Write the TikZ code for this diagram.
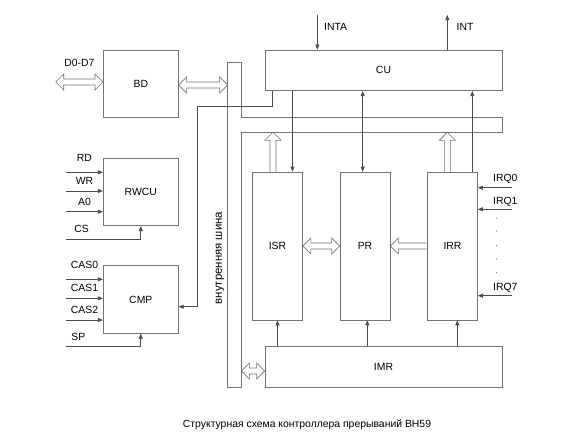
\documentclass[tikz,border=0pt]{standalone}
\usepackage{fontspec}
\setmainfont{Liberation Sans}
\usetikzlibrary{arrows.meta,positioning,calc}

% hollow block arrows: #1 = start, #2 = tip
\newcommand{\fatarrow}[2]{%
  \coordinate (fa-h) at ($(#2)!8pt!(#1)$);
  \draw[fatline] ($(#1)!3pt!90:(#2)$) -- ($(fa-h)!3pt!-90:(#1)$) -- ($(fa-h)!8pt!-90:(#1)$)
    -- (#2) -- ($(fa-h)!8pt!90:(#1)$) -- ($(fa-h)!3pt!90:(#1)$) -- ($(#1)!3pt!-90:(#2)$);
}
\newcommand{\fatboth}[2]{%
  \coordinate (fa-g) at ($(#1)!8pt!(#2)$);
  \coordinate (fa-h) at ($(#2)!8pt!(#1)$);
  \draw[fatline] (#1) -- ($(fa-g)!8pt!90:(#2)$) -- ($(fa-g)!3pt!90:(#2)$)
    -- ($(fa-h)!3pt!-90:(#1)$) -- ($(fa-h)!8pt!-90:(#1)$) -- (#2)
    -- ($(fa-h)!8pt!90:(#1)$) -- ($(fa-h)!3pt!90:(#1)$)
    -- ($(fa-g)!3pt!-90:(#2)$) -- ($(fa-g)!8pt!-90:(#2)$) -- cycle;
}

\begin{document}
\begin{tikzpicture}[
      x=1pt, y=-1pt,
      line width=0.7pt,
      every node/.style={font=\fontsize{10.4}{12}\selectfont},
      block/.style={draw=black!55, minimum width=75pt, minimum height=67.5pt, inner sep=0pt},
      reg/.style={draw=black!55, minimum width=50pt, minimum height=148pt, inner sep=0pt},
      wide/.style={draw=black!55, minimum width=237pt, minimum height=40.7pt, inner sep=0pt},
      sig/.style={inner sep=0pt},
      arr/.style={draw=black!70, -{Triangle[length=5pt, width=4pt]}},
      darr/.style={draw=black!70, {Triangle[length=5pt, width=4pt]}-{Triangle[length=5pt, width=4pt]}},
      fatline/.style={draw=black!55, line width=0.6pt, line join=miter},
    ]
    \useasboundingbox (0,0) rectangle (585,445);

    % left column
    \node[block] (bd) at (140.8,84) {BD};
    \node[block] (rwcu) at (140.8,192) {RWCU};
    \node[block] (cmp) at (140.8,299.5) {CMP};

    % internal bus
    \node[minimum width=13pt, minimum height=324pt, inner sep=0pt] (bus) at (234.5,225) {};
    \node[rotate=90, font=\fontsize{11.4}{13}\selectfont] (busname) at (220,258) {внутренняя шина};

    % right part
    \node[wide] (cu) at (383.5,70.3) {CU};
    \node[reg] (isr) at (277.5,246) {ISR};
    \node[reg] (pr) at (365,246) {PR};
    \node[reg] (irr) at (452.5,246) {IRR};
    \node[wide] (imr) at (383.5,367) {IMR};

    \coordinate (armtop) at (0,117.7);
    \coordinate (armbot) at (0,132.3);
    \draw[black!55] (bus.north west) -- (bus.north east) -- (bus.east |- armtop)
      -- (cu.east |- armtop) -- (cu.east |- armbot) -- (bus.east |- armbot)
      -- (bus.south east) -- (bus.south west) -- cycle;

    % data lines
    \coordinate (d0) at (55.7,82);
    \coordinate (d1) at (d0 -| bd.west);
    \fatboth{d0}{d1}
    \node[sig, above=15pt] (dlbl) at ($(d0)!0.5!(d1)$) {D0-D7};
    \coordinate (b0) at ([yshift=-1pt]bd.east);
    \coordinate (b1) at (b0 -| bus.west);
    \fatboth{b0}{b1}
    \coordinate (m0) at (bus.east |- 0,371);
    \coordinate (m1) at (imr.west |- 0,371);
    \fatboth{m0}{m1}
    \fatboth{isr.east}{pr.west}
    \fatarrow{irr.west}{pr.east}
    \coordinate (f1) at ([xshift=-4.5pt]isr.north);
    \coordinate (f2) at ([xshift=-5.2pt]irr.north);
    \coordinate (g1) at (f1 |- armbot);
    \coordinate (g2) at (f2 |- armbot);
    \fatarrow{f1}{g1}
    \fatarrow{f2}{g2}

    % control lines
    \coordinate (k1) at ([xshift=15pt]isr.north);
    \coordinate (k2) at ([xshift=-2.3pt]pr.north);
    \coordinate (k3) at ([xshift=19.8pt]irr.north);
    \draw[arr] (k1 |- cu.south) -- (k1);
    \draw[darr] (k2 |- cu.south) -- (k2);
    \draw[arr] (k3) -- (k3 |- cu.south);

    \coordinate (b2) at ([xshift=2.3pt]pr.south);
    \coordinate (b3) at ([xshift=4.8pt]irr.south);
    \draw[arr] (isr.south |- imr.north) -- (isr.south);
    \draw[arr] (b2 |- imr.north) -- (b2);
    \draw[arr] (b3 |- imr.north) -- (b3);

    \coordinate (inta) at (317.3,15);
    \coordinate (int) at (447.3,15);
    \draw[arr] (inta) -- (inta |- cu.north) node[sig, pos=0.35, right=6.5pt] {INTA};
    \draw[arr] (int |- cu.north) -- (int) node[sig, pos=0.66, right=9pt] {INT};

    \coordinate (t1) at ([xshift=7.7pt]cu.south west);
    \coordinate (t2) at (197.5,106.7);
    \coordinate (t3) at ([yshift=-7.2pt]cmp.east);
    \draw[arr] (t1) -- (t1 |- t2) -- (t2) |- (t3);

    % inputs of RWCU
    \coordinate (rd) at (66,172.3);
    \coordinate (wr) at (66,191);
    \coordinate (a0) at (66,211.7);
    \coordinate (cs) at (66,239);
    \draw[arr] (rd) -- (rd -| rwcu.west) node[sig, midway, above=10.5pt] {RD};
    \draw[arr] (wr) -- (wr -| rwcu.west) node[sig, midway, above=6.5pt] {WR};
    \draw[arr] (a0) -- (a0 -| rwcu.west) node[sig, midway, above=5.7pt] {A0};
    \draw[arr] (cs) -| (rwcu.south) node[sig, pos=0.105, above=5.7pt] {CS};

    % inputs of CMP
    \coordinate (cas0) at (66,279.3);
    \coordinate (cas1) at (66,298.3);
    \coordinate (cas2) at (66,320);
    \coordinate (sp) at (66,346.7);
    \draw[arr] (cas0) -- (cas0 -| cmp.west) node[sig, midway, above=10.3pt] {CAS0};
    \draw[arr] (cas1) -- (cas1 -| cmp.west) node[sig, midway, above=6pt] {CAS1};
    \draw[arr] (cas2) -- (cas2 -| cmp.west) node[sig, midway, above=6pt] {CAS2};
    \draw[arr] (sp) -| (cmp.south) node[sig, pos=0.082, above=6pt] {SP};

    % interrupt requests
    \coordinate (irq0) at (511.7,187.7);
    \coordinate (irq1) at (511.7,209.3);
    \coordinate (irq7) at (511.7,295.7);
    \draw[arr] (irq0) -- (irq0 -| irr.east) node[sig, pos=0.19, above=3.4pt] {IRQ0};
    \draw[arr] (irq1) -- (irq1 -| irr.east) node[sig, pos=0.19, above=2.6pt] {IRQ1};
    \draw[arr] (irq7) -- (irq7 -| irr.east) node[sig, pos=0.19, above=3pt] {IRQ7};
    \foreach \y in {218,231,245.7,259,272.7}
      \fill[black!60] (496.7,\y) circle (0.6pt);

    \node (caption) at (307,425) {Структурная схема контроллера прерываний ВН59};
  \end{tikzpicture}
\end{document}
